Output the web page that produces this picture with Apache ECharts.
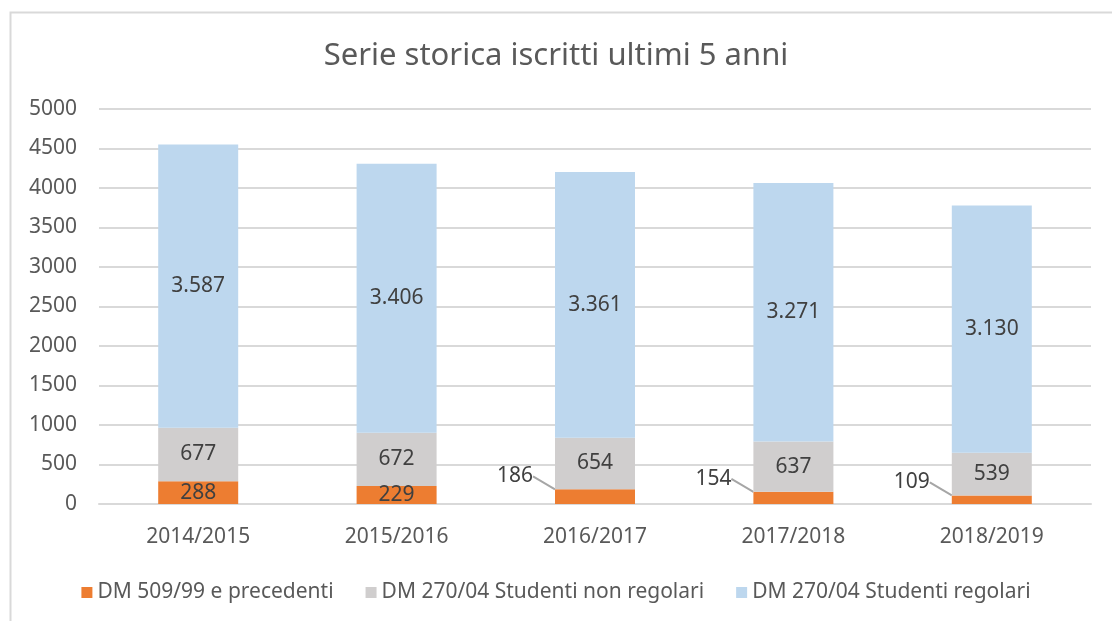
<!DOCTYPE html>
<html>
<head>
<meta charset="utf-8">
<script src="https://cdn.jsdelivr.net/npm/echarts@6/dist/echarts.min.js"></script>
<style>
  html, body { margin: 0; padding: 0; background: #fff; }
  #chart { width: 1112px; height: 621px; }
</style>
</head>
<body>
<div id="chart"></div>
<script>
// anni accademici
var categories = ['2014/2015', '2015/2016', '2016/2017', '2017/2018', '2018/2019'];
// iscritti per tipologia
var dm509 = [288, 229, 186, 154, 109];
var nonRegolari = [677, 672, 654, 637, 539];
var regolari = [3587, 3406, 3361, 3271, 3130];
var yTicks = [0, 5000, 500]; // min, max, passo

var textColor = '#595959';
var labelColor = '#404040';
var font = '"Noto Sans", sans-serif';

// 3587 -> 3.587
function fmt(v) {
  return String(v).replace(/\B(?=(\d{3})+(?!\d))/g, '.');
}

var chart = echarts.init(document.getElementById('chart'));

var option = {
  backgroundColor: '#fff',
  animation: false,
  textStyle: { fontFamily: font },
  title: {
    text: 'Serie storica iscritti ultimi 5 anni',
    left: 'center',
    top: 36,
    textStyle: { fontFamily: font, fontSize: 31, fontWeight: 'normal', color: textColor }
  },
  graphic: [{
    type: 'rect',
    shape: { x: 10.5, y: 12.5, width: 1200, height: 700 },
    style: { fill: 'none', stroke: '#D9D9D9', lineWidth: 2 },
    silent: true
  }],
  legend: {
    top: 577,
    left: 'center',
    itemWidth: 11,
    itemHeight: 11,
    itemGap: 32,
    icon: 'rect',
    textStyle: { fontFamily: font, fontSize: 21, color: textColor }
  },
  grid: { left: 99, right: 21, top: 109, bottom: 117 },
  xAxis: {
    type: 'category',
    data: categories,
    axisTick: { show: false },
    axisLine: { lineStyle: { color: '#D9D9D9', width: 2 } },
    axisLabel: { fontFamily: font, fontSize: 21, color: textColor, margin: 23 }
  },
  yAxis: {
    type: 'value',
    min: yTicks[0],
    max: yTicks[1],
    interval: yTicks[2],
    axisLine: { show: false },
    axisTick: { show: false },
    splitLine: { lineStyle: { color: '#D9D9D9', width: 2 } },
    axisLabel: {
      fontFamily: font, fontSize: 21, color: textColor, margin: 22,
      formatter: function (v) { return String(v); }
    }
  },
  series: [{
    name: 'DM 509/99 e precedenti',
    type: 'bar',
    stack: 'tot',
    barWidth: 80,
    itemStyle: { color: '#ED7D31' },
    data: dm509,
    label: {
      show: true,
      position: 'inside',
      fontSize: 21,
      color: labelColor,
      formatter: function (p) { return fmt(p.value); }
    },
    labelLayout: function (p) {
      if (p.dataIndex < 2) return {};
      return { x: p.rect.x - 40, y: p.rect.y - 13, align: 'center', verticalAlign: 'middle' };
    },
    labelLine: { show: true, length2: 0, lineStyle: { color: '#A6A6A6', width: 2 } }
  }, {
    name: 'DM 270/04 Studenti non regolari',
    type: 'bar',
    stack: 'tot',
    itemStyle: { color: '#D0CECE' },
    data: nonRegolari,
    label: {
      show: true,
      position: 'inside',
      fontSize: 21,
      color: labelColor,
      formatter: function (p) { return fmt(p.value); }
    }
  }, {
    name: 'DM 270/04 Studenti regolari',
    type: 'bar',
    stack: 'tot',
    itemStyle: { color: '#BDD7EE' },
    data: regolari,
    label: {
      show: true,
      position: 'inside',
      fontSize: 21,
      color: labelColor,
      formatter: function (p) { return fmt(p.value); }
    }
  }]
};

chart.setOption(option);
window.onresize = chart.resize;
</script>
</body>
</html>
